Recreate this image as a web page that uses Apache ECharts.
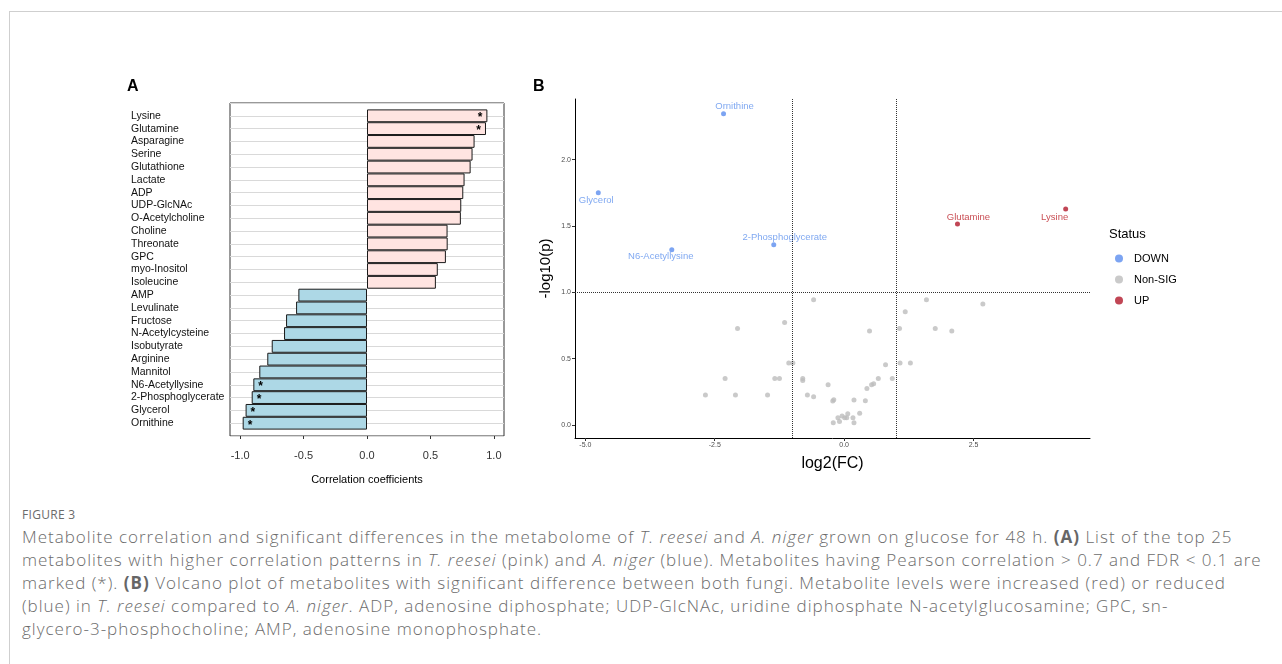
<!DOCTYPE html>
<html>
<head>
<meta charset="utf-8">
<script src="https://cdn.jsdelivr.net/npm/echarts@6/dist/echarts.min.js"></script>
<style>
* { margin: 0; padding: 0; }
body { width: 1282px; height: 664px; background: #fff; position: relative; overflow: hidden; }
.frame { position: absolute; left: 9px; top: 11px; right: -2px; bottom: -2px; border-top: 1px solid #cfcfcf; border-left: 1px solid #cfcfcf; }
#main { position: absolute; left: 0; top: 0; width: 1282px; height: 500px; }
.caption { position: absolute; left: 22px; top: 504px; color: #6b6b6b; font-family: "Open Sans", sans-serif; font-weight: 300; }
.caption .fig { font-size: 12px; letter-spacing: 0.3px; line-height: 21px; font-weight: 400; }
.caption .ln { font-size: 17px; line-height: 23px; white-space: nowrap; letter-spacing: 1px; }
.caption b { font-weight: 700; color: #666; }
</style>
</head>
<body>
<div class="frame"></div>
<div id="main"></div>
<div class="caption">
  <div class="fig">FIGURE 3</div>
  <div class="ln">Metabolite correlation and significant differences in the metabolome of <i>T. reesei</i> and <i>A. niger</i> grown on glucose for 48 h. <b>(A)</b> List of the top 25</div>
  <div class="ln">metabolites with higher correlation patterns in <i>T. reesei</i> (pink) and <i>A. niger</i> (blue). Metabolites having Pearson correlation &gt; 0.7 and FDR &lt; 0.1 are</div>
  <div class="ln">marked (*). <b>(B)</b> Volcano plot of metabolites with significant difference between both fungi. Metabolite levels were increased (red) or reduced</div>
  <div class="ln">(blue) in <i>T. reesei</i> compared to <i>A. niger</i>. ADP, adenosine diphosphate; UDP-GlcNAc, uridine diphosphate N-acetylglucosamine; GPC, sn-</div>
  <div class="ln">glycero-3-phosphocholine; AMP, adenosine monophosphate.</div>
</div>
<script>
// panel A: correlation bars (top to bottom)
var metabolites = ['Lysine', 'Glutamine', 'Asparagine', 'Serine', 'Glutathione', 'Lactate', 'ADP',
  'UDP-GlcNAc', 'O-Acetylcholine', 'Choline', 'Threonate', 'GPC', 'myo-Inositol', 'Isoleucine',
  'AMP', 'Levulinate', 'Fructose', 'N-Acetylcysteine', 'Isobutyrate', 'Arginine', 'Mannitol',
  'N6-Acetyllysine', '2-Phosphoglycerate', 'Glycerol', 'Ornithine'];
var corrValues = [0.949, 0.938, 0.848, 0.832, 0.817, 0.769, 0.759, 0.743, 0.740, 0.635, 0.636, 0.622,
  0.558, 0.543, -0.541, -0.559, -0.638, -0.654, -0.751, -0.786, -0.849, -0.896, -0.909, -0.957, -0.980];
var corrSig = [true, true, false, false, false, false, false, false, false, false, false, false,
  false, false, false, false, false, false, false, false, false, true, true, true, true];
var corrTicks = [-1, -0.5, 0, 0.5, 1];

// panel B: volcano, [log2FC, -log10(p)]
var downNames = ['Ornithine', 'Glycerol', 'N6-Acetyllysine', '2-Phosphoglycerate'];
var downPoints = [[-2.33, 2.346], [-4.75, 1.751], [-3.33, 1.321], [-1.36, 1.359]];
var upNames = ['Glutamine', 'Lysine'];
var upPoints = [[2.19, 1.515], [4.28, 1.628]];
var nonSigPoints = [
  [-0.59, 0.944], [-1.15, 0.773], [-2.06, 0.728], [-2.68, 0.226], [-2.30, 0.351], [-2.10, 0.226],
  [-1.48, 0.226], [-1.34, 0.351], [-1.25, 0.351], [-1.07, 0.467], [-0.99, 0.467], [-0.80, 0.351],
  [-0.80, 0.336], [-0.71, 0.226], [-0.59, 0.213], [-0.31, 0.304], [-0.20, 0.191], [-0.22, 0.181],
  [-0.21, 0.017], [-0.12, 0.055], [-0.09, 0.027], [-0.04, 0.068], [0.01, 0.055], [0.05, 0.055],
  [0.07, 0.085], [0.17, 0.055], [0.19, 0.017], [0.19, 0.188], [0.30, 0.088], [0.41, 0.183],
  [0.44, 0.276], [0.49, 0.708], [0.53, 0.304], [0.57, 0.311], [0.66, 0.351], [0.80, 0.454],
  [0.93, 0.351], [1.07, 0.728], [1.08, 0.467], [1.18, 0.854], [1.28, 0.467], [1.59, 0.944],
  [1.76, 0.728], [2.08, 0.708], [2.68, 0.912]];
var fcTicks = [-5, -2.5, 0, 2.5];
var pTicks = [0, 0.5, 1, 1.5, 2];
var fcCutoffs = [-1, 1];
var pCutoff = 1;

var chart = echarts.init(document.getElementById('main'));
var FONT = '"Liberation Sans", Arial, sans-serif';

// label placement next to each named point (ggrepel look)
var labelOffset = {
  'Ornithine': [11, -7], 'Glycerol': [-2, 8], 'N6-Acetyllysine': [-11, 7],
  '2-Phosphoglycerate': [11, -7], 'Glutamine': [11, -7], 'Lysine': [-11, 8]
};

function namedPoints(names, pts) {
  return pts.map(function (p, i) {
    return { name: names[i], value: p, label: { offset: labelOffset[names[i]] } };
  });
}

var markLines = fcCutoffs.map(function (v) { return { xAxis: v }; });
markLines.push({ yAxis: pCutoff });

var option = {
  animation: false,
  textStyle: { fontFamily: FONT },
  graphic: [
    { type: 'text', left: 127, top: 79, style: { text: 'A', font: 'bold 16px ' + FONT, fill: '#000' } },
    { type: 'text', left: 533, top: 79, style: { text: 'B', font: 'bold 16px ' + FONT, fill: '#000' } },
    { type: 'text', left: 1109, top: 228, style: { text: 'Status', font: '13px ' + FONT, fill: '#000' } }
  ],
  legend: {
    data: ['DOWN', 'Non-SIG', 'UP'],
    orient: 'vertical',
    left: 1110, top: 248,
    itemWidth: 20, itemHeight: 8, itemGap: 10,
    icon: 'circle',
    textStyle: { fontSize: 11, color: '#000', fontFamily: FONT }
  },
  grid: [
    { left: 230, top: 103, width: 274, height: 333, show: true, borderColor: '#333', borderWidth: 1 },
    { left: 575, top: 99, width: 515, height: 339 }
  ],
  xAxis: [
    {
      type: 'value', gridIndex: 0, min: -1.08, max: 1.08,
      axisLine: { show: false, onZero: false },
      axisTick: { show: true, customValues: corrTicks, length: 3, lineStyle: { color: '#333' } },
      axisLabel: { customValues: corrTicks, formatter: function (v) { return v.toFixed(1); },
        fontSize: 11, color: '#333', margin: 14 },
      splitLine: { show: false },
      name: 'Correlation coefficients', nameLocation: 'middle', nameGap: 38,
      nameTextStyle: { fontSize: 11, color: '#000' }
    },
    {
      type: 'value', gridIndex: 1, min: -5.2, max: 4.75,
      axisLine: { show: true, onZero: false, lineStyle: { color: '#000', width: 1 } },
      axisTick: { show: true, customValues: fcTicks, length: 3, lineStyle: { color: '#333' } },
      axisLabel: { customValues: fcTicks, formatter: function (v) { return v.toFixed(1); },
        fontSize: 7, color: '#4d4d4d', margin: 4 },
      splitLine: { show: false },
      name: 'log2(FC)', nameLocation: 'middle', nameGap: 18,
      nameTextStyle: { fontSize: 16, color: '#000' }
    }
  ],
  yAxis: [
    {
      type: 'category', gridIndex: 0, data: metabolites, inverse: true,
      boundaryGap: false, min: -1, max: metabolites.length,
      axisLine: { show: false },
      axisTick: { show: false },
      axisLabel: { interval: 0, align: 'left', margin: 99, fontSize: 10.5, color: '#111',
        formatter: function (v) { return metabolites.indexOf(v) >= 0 ? v : ''; } },
      splitLine: { show: true, interval: 0, lineStyle: { color: '#d9d9d9', width: 1 } }
    },
    {
      type: 'value', gridIndex: 1, min: -0.098, max: 2.457,
      axisLine: { show: true, onZero: false, lineStyle: { color: '#000', width: 1 } },
      axisTick: { show: true, customValues: pTicks, length: 3, lineStyle: { color: '#333' } },
      axisLabel: { customValues: pTicks, formatter: function (v) { return v.toFixed(1); },
        fontSize: 7, color: '#4d4d4d', margin: 4 },
      splitLine: { show: false },
      name: '-log10(p)', nameLocation: 'middle', nameGap: 22, nameRotate: 90,
      nameTextStyle: { fontSize: 15, color: '#000' }
    }
  ],
  series: [
    {
      type: 'bar', xAxisIndex: 0, yAxisIndex: 0, barWidth: '100%',
      itemStyle: { borderColor: '#1a1a1a', borderWidth: 1 },
      label: { show: false, formatter: '*', fontSize: 12, fontWeight: 'bold', color: '#000',
        distance: 5, offset: [0, 2] },
      data: corrValues.map(function (v, i) {
        return {
          value: v,
          itemStyle: { color: v > 0 ? '#ffe4e1' : '#add8e6' },
          label: { show: corrSig[i], position: v > 0 ? 'insideRight' : 'insideLeft' }
        };
      })
    },
    {
      name: 'DOWN', type: 'scatter', xAxisIndex: 1, yAxisIndex: 1, symbolSize: 5,
      itemStyle: { color: '#5b8def' },
      label: { show: true, position: 'inside', formatter: '{b}', fontSize: 9.5, color: '#5f92ee' },
      data: namedPoints(downNames, downPoints)
    },
    {
      name: 'Non-SIG', type: 'scatter', xAxisIndex: 1, yAxisIndex: 1, symbolSize: 5,
      itemStyle: { color: '#bdbdbd' },
      data: nonSigPoints,
      markLine: {
        silent: true, symbol: 'none', label: { show: false },
        lineStyle: { type: 'dotted', color: '#333', width: 1 },
        data: markLines
      }
    },
    {
      name: 'UP', type: 'scatter', xAxisIndex: 1, yAxisIndex: 1, symbolSize: 5,
      itemStyle: { color: '#b2182b' },
      label: { show: true, position: 'inside', formatter: '{b}', fontSize: 9.5, color: '#bb2229' },
      data: namedPoints(upNames, upPoints)
    }
  ]
};
chart.setOption(option);
</script>
</body>
</html>
